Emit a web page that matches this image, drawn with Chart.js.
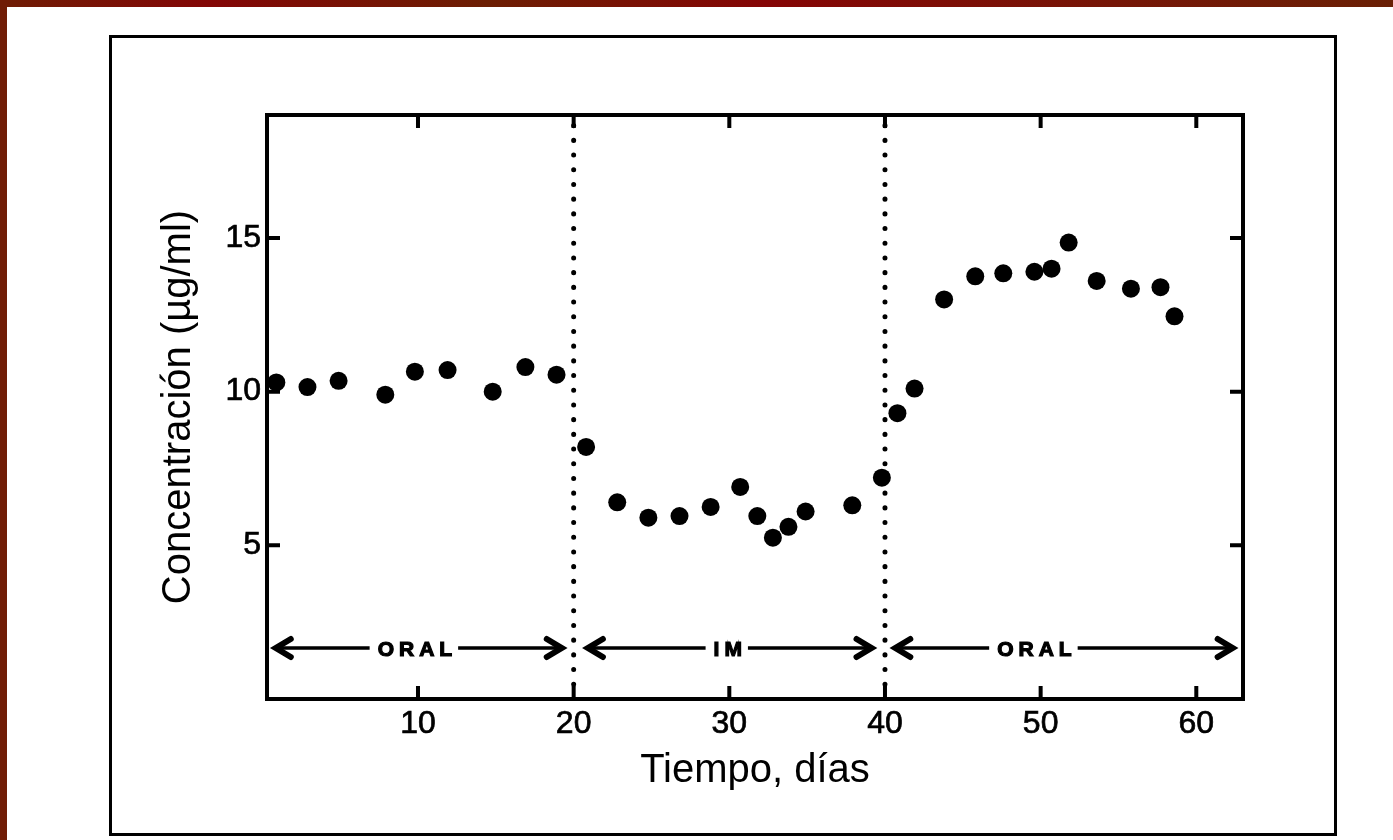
<!DOCTYPE html>
<html><head><meta charset="utf-8">
<script src="https://cdn.jsdelivr.net/npm/chart.js@4.4.1/dist/chart.umd.min.js"></script>
<style>html,body{margin:0;padding:0;background:#fff;overflow:hidden}canvas{display:block}</style>
</head><body>
<canvas id="c" width="1393" height="840"></canvas>
<script>
// ---- data ----
const days = [0.9, 2.9, 4.9, 7.9, 9.8, 11.9, 14.8, 16.9, 18.9,
  20.8, 22.8, 24.8, 26.8, 28.8, 30.7, 31.8, 32.8, 33.8, 34.9, 37.9, 39.8,
  40.8, 41.9, 43.8, 45.8, 47.6, 49.6, 50.7, 51.8, 53.6, 55.8, 57.7, 58.6];
const concentration = [10.3, 10.15, 10.35, 9.9, 10.65, 10.7, 10.0, 10.8, 10.55,
  8.2, 6.4, 5.9, 5.95, 6.25, 6.9, 5.95, 5.25, 5.6, 6.1, 6.3, 7.2,
  9.3, 10.1, 13.0, 13.75, 13.85, 13.9, 14.0, 14.85, 13.6, 13.35, 13.4, 12.45];
const xTicks = [10, 20, 30, 40, 50, 60];
const yTicks = [5, 10, 15];
const xRange = [0.3, 63];
const yRange = [0, 19];
const switchDays = [20, 40];
const phaseLabels = ['ORAL', 'IM', 'ORAL'];
const phaseStart = [0.8, 20.85, 40.6];
const phaseEnd = [19.3, 39.2, 62.4];
const phaseLabelDay = [9.8, 29.9, 49.6];
const phaseLevel = 1.66;

const FAMILY = "'Liberation Sans', Arial, Helvetica, sans-serif";

function spacedText(ctx, text, cx, cy, spacing) {
  const chars = [...text];
  const widths = chars.map(ch => ctx.measureText(ch).width);
  const total = widths.reduce((s, w) => s + w, 0) + spacing * (chars.length - 1);
  let xx = cx - total / 2;
  ctx.textAlign = 'left';
  ctx.textBaseline = 'middle';
  ctx.lineWidth = 1.2;
  chars.forEach((ch, i) => { ctx.fillText(ch, xx, cy); ctx.strokeText(ch, xx, cy); xx += widths[i] + spacing; });
  return total;
}

const deco = {
  id: 'deco',
  beforeDraw(chart) {
    const ctx = chart.ctx;
    ctx.save();
    ctx.fillStyle = '#fff';
    ctx.fillRect(0, 0, chart.width, chart.height);
    const g = ctx.createLinearGradient(0, 0, chart.width, 0);
    g.addColorStop(0, '#6f1d05');
    g.addColorStop(0.15, '#830606');
    g.addColorStop(0.35, '#6c1e03');
    g.addColorStop(0.55, '#850505');
    g.addColorStop(0.8, '#761607');
    g.addColorStop(1, '#6a2005');
    ctx.fillStyle = g;
    ctx.fillRect(0, 0, chart.width, 7);
    ctx.fillStyle = '#701c05';
    ctx.fillRect(0, 0, 7, chart.height);
    ctx.strokeStyle = '#000';
    ctx.lineWidth = 3;
    ctx.strokeRect(110.5, 36.5, 1225, 798);
    ctx.restore();
  },
  afterDatasetsDraw(chart) {
    const { ctx, chartArea: a, scales: { x, y } } = chart;
    ctx.save();
    ctx.strokeStyle = '#000';
    ctx.fillStyle = '#000';
    ctx.lineWidth = 4;
    ctx.strokeRect(a.left, a.top, a.right - a.left, a.bottom - a.top);
    const tl = 13;
    ctx.beginPath();
    xTicks.forEach(v => {
      const px = x.getPixelForValue(v);
      ctx.moveTo(px, a.bottom); ctx.lineTo(px, a.bottom - tl);
      ctx.moveTo(px, a.top); ctx.lineTo(px, a.top + tl);
    });
    yTicks.forEach(v => {
      const py = y.getPixelForValue(v);
      ctx.moveTo(a.left, py); ctx.lineTo(a.left + tl, py);
      ctx.moveTo(a.right, py); ctx.lineTo(a.right - tl, py);
    });
    ctx.stroke();

    // phase arrows
    ctx.font = 'bold 21px ' + FAMILY;
    const py = y.getPixelForValue(phaseLevel);
    phaseLabels.forEach((lab, i) => {
      const x0 = x.getPixelForValue(phaseStart[i]);
      const x1 = x.getPixelForValue(phaseEnd[i]);
      const xc = x.getPixelForValue(phaseLabelDay[i]);
      const w = spacedText(ctx, lab, xc, py + 2, 5);
      ctx.lineWidth = 3.5;
      ctx.lineCap = 'butt';
      ctx.beginPath();
      ctx.moveTo(x0 + 2, py); ctx.lineTo(xc - w / 2 - 8, py);
      ctx.moveTo(xc + w / 2 + 6, py); ctx.lineTo(x1 - 2, py);
      ctx.stroke();
      ctx.lineWidth = 6;
      ctx.lineJoin = 'miter';
      ctx.lineCap = 'round';
      ctx.beginPath();
      ctx.moveTo(x0 + 16, py - 9); ctx.lineTo(x0 + 1, py); ctx.lineTo(x0 + 16, py + 9);
      ctx.moveTo(x1 - 16, py - 9); ctx.lineTo(x1 - 1, py); ctx.lineTo(x1 - 16, py + 9);
      ctx.stroke();
    });
    ctx.restore();
  }
};

const points = days.map((d, i) => ({ x: d, y: concentration[i] }));
const dividerSets = switchDays.map(d => ({
  type: 'line',
  data: [{ x: d, y: yRange[0] }, { x: d, y: yRange[1] }],
  borderColor: '#000',
  borderWidth: 5,
  borderDash: [0.1, 14.6],
  borderCapStyle: 'round',
  pointRadius: 0,
  fill: false,
  order: 2
}));

new Chart(document.getElementById('c'), {
  type: 'scatter',
  data: {
    datasets: [{
      data: points,
      backgroundColor: '#000',
      borderColor: '#000',
      borderWidth: 0,
      pointRadius: 9,
      pointHoverRadius: 9,
      order: 1
    }, ...dividerSets]
  },
  options: {
    responsive: false,
    animation: false,
    events: [],
    layout: { padding: { left: 0, top: 115, right: 150, bottom: 0 } },
    plugins: { legend: { display: false }, tooltip: { enabled: false } },
    scales: {
      x: {
        type: 'linear',
        min: xRange[0], max: xRange[1],
        afterBuildTicks: s => { s.ticks = xTicks.map(v => ({ value: v })); },
        afterFit: s => { s.height = 141; },
        grid: { display: false, drawTicks: false },
        border: { display: false },
        ticks: { color: '#000', textStrokeColor: '#000', textStrokeWidth: 0.7, font: { family: FAMILY, size: 32 }, padding: 6, maxRotation: 0, autoSkip: false },
        title: { display: true, text: 'Tiempo, días', color: '#000', font: { family: FAMILY, size: 40 }, padding: { top: 0, bottom: 45 } }
      },
      y: {
        type: 'linear',
        min: yRange[0], max: yRange[1],
        afterBuildTicks: s => { s.ticks = yTicks.map(v => ({ value: v })); },
        afterFit: s => { s.width = 267; },
        grid: { display: false, drawTicks: false },
        border: { display: false },
        ticks: { color: '#000', textStrokeColor: '#000', textStrokeWidth: 0.7, font: { family: FAMILY, size: 32 }, padding: 6, autoSkip: false },
        title: { display: true, text: 'Concentración (µg/ml)', color: '#000', font: { family: FAMILY, size: 40 }, padding: { top: 155, bottom: 0 } }
      }
    }
  },
  plugins: [deco]
});
</script>
</body></html>
